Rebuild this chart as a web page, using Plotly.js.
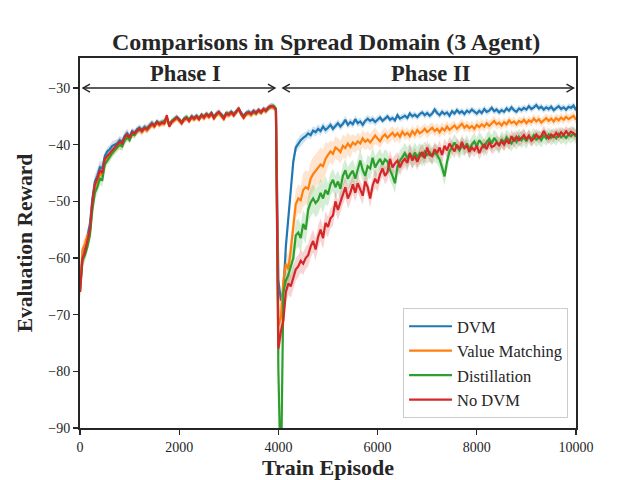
<!DOCTYPE html>
<html>
<head>
<meta charset="utf-8">
<script src="https://cdn.plot.ly/plotly-3.0.1.min.js"></script>
<style>
  html, body { margin: 0; padding: 0; background: #ffffff; }
  #chart { width: 640px; height: 480px; }
</style>
</head>
<body>
<div id="chart"></div>
<script>
// Evaluation reward, sampled every 50 train episodes.
// Phase I: episodes 0..3950, Phase II: episodes 4000..10000.
const STEP = 50;
const PHASE2_START = 4000;

const seriesNames = ["DVM", "Value Matching", "Distillation", "No DVM"];
const seriesColors = ["#1f77b4", "#ff7f0e", "#2ca02c", "#d62728"];

const dvmPhase1 = [-65, -59.5, -58.5, -56.5, -54, -49.5, -46.5, -45.5, -44, -44.2,
  -42, -41.2, -40.8, -40.2, -40, -39.8, -39.2, -39.5, -38.5, -38,
  -38.6, -37.6, -37.9, -37.3, -37, -37.4, -36.9, -37.1, -36.6, -36.2,
  -36.5, -35.9, -36.2, -36, -36.1, -35.5, -36.4, -35.9, -35.5, -35.1,
  -35.5, -36, -35.4, -35.2, -35.6, -35, -35.3, -34.9, -35.3, -34.8,
  -35, -34.6, -34.9, -34.4, -35.1, -34.5, -34.3, -34.8, -35.1, -34.5,
  -34.6, -34.2, -34.6, -34.1, -33.8, -34.4, -34.9, -34.4, -34.2, -34.5,
  -34, -34.3, -33.9, -34.2, -33.7, -33.9, -33.4, -33.2, -33.3, -33.7];
const dvmPhase2 = [-64, -67.5, -66, -58, -53, -47, -43, -40.5, -39.8, -39.2,
  -38.8, -38.5, -38, -38.3, -37.5, -37.8, -37.2, -37.6, -36.8, -37.4,
  -37, -36.5, -37.2, -36.6, -36.2, -36.8, -36.3, -35.6, -36.5, -36,
  -36.4, -35.5, -36.2, -35.9, -36.5, -35.8, -35.4, -35.8, -35.5, -36,
  -35.6, -35.2, -35.8, -35.4, -35, -35.6, -35.3, -35.7, -34.8, -35.4,
  -35.2, -34.9, -35.3, -34.5, -35, -34.7, -35.1, -34.6, -34.3, -34.8,
  -34.4, -34.9, -34.5, -33.8, -34.4, -34.8, -34.2, -34.6, -34.3, -34.9,
  -34.1, -34.5, -33.9, -34.4, -34.1, -34.6, -34, -34.3, -33.8, -34.2,
  -34.5, -34, -34.4, -33.7, -34.2, -34, -33.5, -34.1, -33.8, -34.3,
  -33.9, -34.2, -33.6, -34, -33.4, -33.9, -34.2, -33.6, -33.9, -33.5,
  -33.8, -33.2, -33.7, -33.4, -33, -33.6, -33.3, -33.8, -33.4, -33.7,
  -33.3, -33.9, -33.5, -33.2, -33.7, -33.4, -33.8, -33.3, -33.5, -33.1,
  -33.9];

const vmPhase1 = [-66, -58.5, -57.5, -56, -55.5, -50.5, -47.5, -46.5, -45, -45.5,
  -43, -42.5, -42, -41.3, -40.8, -40.2, -40, -40.2, -39, -38.5,
  -39, -38, -38.3, -37.7, -37.4, -37.8, -37.2, -37.5, -37, -36.5,
  -36.9, -36.2, -36.6, -36.3, -36.4, -35.5, -36.7, -36.1, -35.8, -35.4,
  -35.8, -36.3, -35.7, -35.4, -35.9, -35.3, -35.6, -35.2, -35.6, -35,
  -35.4, -34.8, -35.2, -34.7, -35.4, -34.8, -34.5, -35, -35.5, -34.7,
  -34.9, -34.5, -34.9, -34.3, -33.8, -34.7, -35.3, -34.7, -34.5, -34.8,
  -34.3, -34.6, -34.1, -34.4, -33.9, -34.2, -33.6, -33.4, -33.4, -33.9];
const vmPhase2 = [-72, -70.5, -64, -61, -62, -58.5, -54, -50.5, -49.5, -49.8,
  -48, -47.5, -47.8, -46, -45.2, -44.6, -44, -43.5, -43.8, -42.5,
  -41.8, -41.2, -41.6, -40.5, -40.8, -41.3, -40.2, -40.6, -39.8, -40.4,
  -39.6, -40, -39.4, -39.8, -38.9, -39.5, -39.1, -39.6, -39, -38.4,
  -38.9, -39.4, -38.6, -38.2, -38.8, -38.3, -37.9, -38.5, -38, -38.6,
  -37.7, -38.3, -37.9, -38.5, -37.6, -38.2, -37.4, -38, -37.7, -37.2,
  -37.8, -37.4, -37, -37.6, -37.2, -37.8, -37.1, -37.5, -36.8, -37.4,
  -37, -36.6, -37.2, -36.8, -36.3, -37, -36.6, -37.1, -36.7, -37.2,
  -36.5, -36.9, -36.4, -36.8, -36.2, -36.7, -36.3, -35.8, -36.4, -36.1,
  -36.6, -36, -36.4, -35.7, -36.2, -35.9, -36.4, -35.8, -36.1, -35.6,
  -36.2, -35.7, -36, -35.4, -35.9, -35.5, -36.1, -35.6, -35.3, -35.8,
  -35.4, -35.9, -35.3, -35.7, -35.2, -35.6, -35.1, -35.5, -35.2, -34.9,
  -35.6];

const distPhase1 = [-66, -60.5, -59.5, -58, -56, -51.5, -48.5, -47.5, -46, -46.2,
  -43.5, -42.8, -42.3, -41.5, -41, -40.5, -40, -40.3, -39.3, -38.7,
  -39.2, -38.2, -38.3, -37.6, -37.3, -37.6, -37, -37.3, -36.8, -36.3,
  -36.6, -36, -36.3, -36, -35.8, -35.2, -36.5, -35.8, -35.5, -35.2,
  -35.6, -36.1, -35.4, -35.1, -35.7, -35, -35.4, -35, -35.4, -34.7,
  -35.1, -34.6, -35, -34.4, -35.2, -34.6, -34.3, -34.7, -35.2, -34.4,
  -34.6, -34.3, -34.7, -34.2, -33.7, -34.5, -35.1, -34.5, -34.3, -34.6,
  -34.2, -34.5, -33.9, -34.3, -33.8, -34, -33.5, -33.2, -33.1, -33.6];
const distPhase2 = [-80, -100, -66, -64, -63, -61.5, -60, -56, -55.5, -56.5,
  -54, -55, -51.5, -50.2, -49.5, -50.3, -49.8, -48.5, -49.5, -48,
  -48.8, -47, -46.2, -47.5, -46.5, -47.8, -45.5, -44.5, -46, -45.2,
  -44.6, -46, -44.2, -42.8, -44.5, -45.5, -43.8, -44.2, -42.3, -44,
  -43.2, -42.5, -43.5, -42.6, -43, -44.5, -45.5, -46.8, -44, -42.8,
  -42.2, -41.5, -42.3, -41.6, -42.3, -41.4, -42.2, -41.5, -42, -41.2,
  -41.8, -41.3, -42, -41.4, -41.8, -42.6, -44, -45.6, -43, -41.2,
  -40.5, -39.6, -40.4, -41, -40.2, -40.6, -39.8, -40.8, -40, -39.4,
  -40.3, -39.2, -39.8, -40.6, -39.5, -39, -39.8, -38.8, -39.4, -40.2,
  -39, -39.6, -38.7, -39.3, -39.8, -38.9, -39.5, -38.6, -39.2, -38.7,
  -39.4, -38.5, -39, -38.3, -39.1, -38.6, -39.2, -38.4, -38.9, -38.2,
  -38.8, -38.4, -38.9, -38.1, -38.7, -38.3, -38.8, -38.2, -38.5, -38,
  -38.6];

const noDvmPhase1 = [-66, -60, -59, -57, -55, -50, -47, -46, -44.5, -45,
  -42.5, -42, -41.5, -41, -40.5, -40, -39.5, -39.8, -38.7, -38.2,
  -38.8, -37.8, -38, -37.5, -37.2, -37.6, -37, -37.3, -36.8, -36.3,
  -36.7, -36, -36.4, -36.1, -36.2, -34.8, -36.8, -36, -35.6, -35.2,
  -35.6, -36.2, -35.5, -35.3, -35.8, -35.1, -35.4, -35, -35.5, -34.8,
  -35.2, -34.6, -35, -34.5, -35.3, -34.6, -34.2, -34.9, -35.4, -34.5,
  -34.7, -34.3, -34.8, -34.2, -33.5, -34.6, -35.2, -34.5, -34.3, -34.6,
  -34.1, -34.4, -33.9, -34.3, -33.7, -34, -33.4, -33.2, -33.3, -33.8];
const noDvmPhase2 = [-76, -73, -71, -66, -64.5, -65, -63.5, -62, -61.5, -60.5,
  -61, -60, -59.5, -58, -57, -58.5, -56.3, -55, -56.5, -53.8,
  -54.5, -53, -52.5, -50, -51.5, -50.2, -49, -47.5, -49.5, -48.5,
  -47, -48.5, -46.8, -48, -49, -46.5, -47.5, -49.5, -47.2, -46,
  -46.8, -45.2, -44.2, -45.5, -44.8, -42.5, -44, -43.3, -42.8, -44,
  -43, -42.5, -43.2, -41.5, -42.8, -42, -43, -42, -41.3, -42.4,
  -40.5, -41.8, -42, -40.8, -41.5, -40.5, -41.8, -40.2, -41, -39.8,
  -40.5, -41.2, -40, -40.8, -39.5, -40.6, -40.2, -41.3, -40.5, -41,
  -40.2, -41.5, -40.5, -40, -40.8, -39.5, -40.4, -40.2, -39.6, -40.1,
  -39.4, -40, -39.2, -39.8, -38.5, -39.4, -38.6, -39.2, -38.8, -38.3,
  -39, -38.4, -39.3, -38.9, -38.2, -38.8, -38.5, -37.6, -38.4, -38.9,
  -38.2, -38.6, -37.9, -38.5, -37.8, -38.3, -37.6, -38.2, -37.7, -38,
  -38.3];

// Half-width of the shaded spread, one value per 500-episode block.
const dvmSpread = [1.2, 0.8, 0.6, 0.5, 0.5, 0.5, 0.5, 0.5, 1.0, 0.8, 0.7, 0.7, 0.6, 0.6, 0.6, 0.6, 0.6, 0.6, 0.6, 0.6];
const vmSpread = [1.2, 0.8, 0.6, 0.5, 0.5, 0.5, 0.5, 0.5, 2.5, 3.0, 2.0, 1.5, 1.2, 1.0, 1.0, 0.9, 0.9, 0.8, 0.8, 0.8];
const distSpread = [1.2, 0.8, 0.6, 0.5, 0.5, 0.5, 0.5, 0.5, 2.5, 2.5, 2.0, 2.0, 1.8, 1.8, 1.6, 1.5, 1.5, 1.4, 1.3, 1.3];
const noDvmSpread = [1.2, 0.8, 0.6, 0.5, 0.5, 0.5, 0.5, 0.5, 2.0, 2.0, 1.8, 1.6, 1.5, 1.5, 1.3, 1.2, 1.2, 1.2, 1.0, 1.0];

const xTickVals = [0, 2000, 4000, 6000, 8000, 10000];
const xTickText = ["0", "2000", "4000", "6000", "8000", "10000"];
const yTickVals = [-90, -80, -70, -60, -50, -40, -30];
const yTickText = ["\u221290", "\u221280", "\u221270", "\u221260", "\u221250", "\u221240", "\u221230"];

const SERIF = '"Liberation Serif", "DejaVu Serif", serif';
const INK = '#262626';

function joinPhases(p1, p2) {
  const x = [], y = [];
  p1.forEach((v, i) => { x.push(i * STEP); y.push(v); });
  p2.forEach((v, i) => { x.push(PHASE2_START + i * STEP); y.push(v); });
  return { x, y };
}

const allSeries = [
  joinPhases(dvmPhase1, dvmPhase2),
  joinPhases(vmPhase1, vmPhase2),
  joinPhases(distPhase1, distPhase2),
  joinPhases(noDvmPhase1, noDvmPhase2)
];
const spreads = [dvmSpread, vmSpread, distSpread, noDvmSpread];

function rgba(hex, a) {
  const n = parseInt(hex.slice(1), 16);
  return `rgba(${(n >> 16) & 255},${(n >> 8) & 255},${n & 255},${a})`;
}

const traces = [];
// shaded spread bands
allSeries.forEach((s, k) => {
  const sp = spreads[k];
  const w = s.x.map(x => sp[Math.min(sp.length - 1, Math.floor(x / 500))]);
  const upper = s.y.map((v, i) => v + w[i]);
  const lower = s.y.map((v, i) => v - w[i]);
  traces.push({
    x: s.x.concat(s.x.slice().reverse()),
    y: upper.concat(lower.slice().reverse()),
    type: 'scatter', mode: 'lines', fill: 'toself',
    fillcolor: rgba(seriesColors[k], 0.2),
    line: { width: 0, color: 'rgba(0,0,0,0)' },
    showlegend: false, hoverinfo: 'skip'
  });
});
// mean curves
allSeries.forEach((s, k) => {
  traces.push({
    x: s.x, y: s.y, type: 'scatter', mode: 'lines',
    name: seriesNames[k],
    line: { color: seriesColors[k], width: 2.2 }
  });
});

// phase arrows: shaft in data coordinates, open chevron heads in pixels
function chevron(xAnchor, dir) {
  const d = 7 * dir;
  return {
    type: 'path', xref: 'x', yref: 'y',
    xsizemode: 'pixel', ysizemode: 'pixel',
    xanchor: xAnchor, yanchor: -30,
    path: `M${d},-4 L0,0 L${d},4`,
    line: { color: INK, width: 1.4 }
  };
}
const arrowSpans = [[60, 3930], [4090, 9950]];
const shapes = [];
arrowSpans.forEach(([a, b]) => {
  shapes.push({ type: 'line', xref: 'x', yref: 'y', x0: a, x1: b, y0: -30, y1: -30,
    line: { color: INK, width: 1.4 } });
  shapes.push(chevron(a, 1));
  shapes.push(chevron(b, -1));
});

const phaseLabels = [
  { text: '<b>Phase I</b>', x: 2120 },
  { text: '<b>Phase II</b>', x: 7070 }
];
const annotations = phaseLabels.map(p => ({
  text: p.text, x: p.x, y: -30, xref: 'x', yref: 'y',
  yanchor: 'bottom', yshift: 0, showarrow: false,
  font: { family: SERIF, size: 22.5, color: INK }
}));

const layout = {
  width: 640, height: 480,
  margin: { l: 80, r: 64, t: 58, b: 52 },
  paper_bgcolor: '#ffffff', plot_bgcolor: '#ffffff',
  title: {
    text: '<b>Comparisons in Spread Domain (3 Agent)</b>',
    font: { family: SERIF, size: 24, color: INK },
    x: 0.496, xanchor: 'center', xref: 'paper', y: 0.913, yanchor: 'middle'
  },
  xaxis: {
    range: [0, 10000], tickvals: xTickVals, ticktext: xTickText,
    showgrid: false, zeroline: false,
    showline: true, mirror: true, linecolor: INK, linewidth: 2,
    ticks: 'outside', ticklen: 5, tickwidth: 1.2, tickcolor: INK,
    tickfont: { family: SERIF, size: 14, color: INK },
    title: { text: '<b>Train Episode</b>', font: { family: SERIF, size: 22, color: INK }, standoff: 7 }
  },
  yaxis: {
    range: [-90, -24.7], tickvals: yTickVals, ticktext: yTickText,
    showgrid: false, zeroline: false,
    showline: true, mirror: true, linecolor: INK, linewidth: 2,
    ticks: 'outside', ticklen: 5, tickwidth: 1.2, tickcolor: INK,
    tickfont: { family: SERIF, size: 14, color: INK },
    title: { text: '<b>Evaluation Reward</b>', font: { family: SERIF, size: 21.5, color: INK }, standoff: 10 }
  },
  legend: {
    x: 0.984, y: 0.027, xanchor: 'right', yanchor: 'bottom',
    bgcolor: '#ffffff', bordercolor: '#cccccc', borderwidth: 1,
    font: { family: SERIF, size: 16.5, color: INK },
    tracegroupgap: 0, itemwidth: 43
  },
  shapes: shapes,
  annotations: annotations,
  showlegend: true
};

Plotly.newPlot('chart', traces, layout, { staticPlot: true, displayModeBar: false });
</script>
</body>
</html>
